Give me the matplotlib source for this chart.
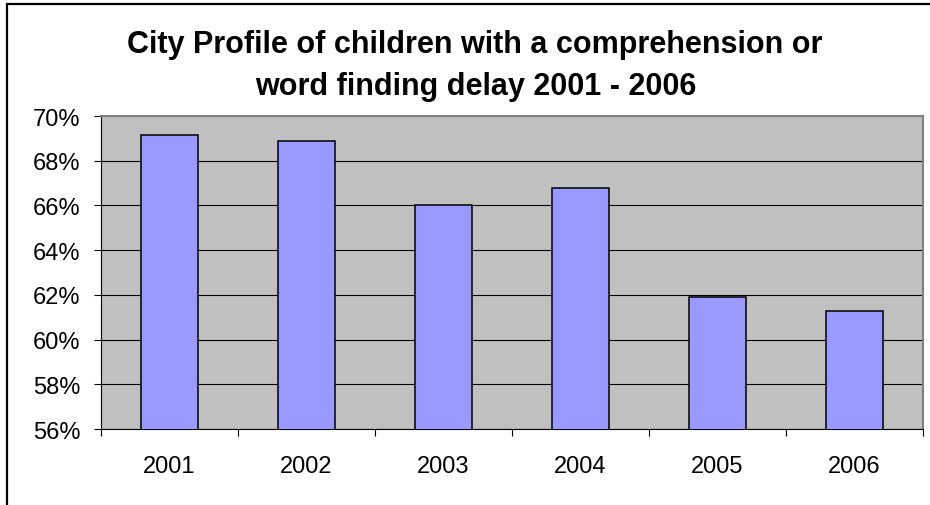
import numpy as np
import matplotlib
matplotlib.use("Agg")
import matplotlib.pyplot as plt
from matplotlib.patches import Rectangle
from matplotlib.ticker import FuncFormatter

plt.rcParams['font.family'] = ['Liberation Sans', 'DejaVu Sans']

# data
years = ["2001", "2002", "2003", "2004", "2005", "2006"]
pct = [69.14, 68.87, 66.0, 66.79, 61.92, 61.29]
yticks = [56, 58, 60, 62, 64, 66, 68, 70]

fig = plt.figure(figsize=(9.3, 5.06), dpi=100)
ax = fig.add_axes([101/930, 1 - 430/506, 822/930, 313/506])

x = np.arange(len(years))
ax.bar(x, pct, width=0.41, color="#9999FF", edgecolor="black", linewidth=1.1, zorder=3)

ax.set_facecolor("#C0C0C0")
ax.set_xlim(-0.5, len(years) - 0.5)
ax.set_ylim(56, 70)
ax.set_yticks(yticks)
ax.yaxis.set_major_formatter(FuncFormatter(lambda v, p: "%d%%" % v))
ax.yaxis.grid(True, color="black", linewidth=0.8, zorder=1)
ax.set_axisbelow(True)

ax.set_xticks(x)
ax.set_xticklabels(years)
ax.set_xticks(np.arange(-0.5, len(years)), minor=True)
ax.tick_params(axis="x", which="major", length=0, pad=19, labelsize=17)
ax.tick_params(axis="x", which="minor", length=5, width=0.8, color="black")
ax.tick_params(axis="y", length=5, width=0.8, pad=10, labelsize=17)

for s in ["top", "right"]:
    ax.spines[s].set_color("#808080")
    ax.spines[s].set_linewidth(1.5)
for s in ["left", "bottom"]:
    ax.spines[s].set_color("black")
    ax.spines[s].set_linewidth(0.8)

fig.text(475/930, 1 - 53/506, "City Profile of children with a comprehension or",
         ha="center", va="baseline", fontsize=22, fontweight="bold")
fig.text(476/930, 1 - 95/506, "word finding delay 2001 - 2006",
         ha="center", va="baseline", fontsize=22, fontweight="bold")

# outer chart border (right/bottom edges fall outside the image)
fig.patches.append(Rectangle((7/930, -0.1), 1.2, 1.1 - 5/506, transform=fig.transFigure,
                             fill=False, edgecolor="black", linewidth=1.6))

fig.savefig("out.png", dpi=100)
